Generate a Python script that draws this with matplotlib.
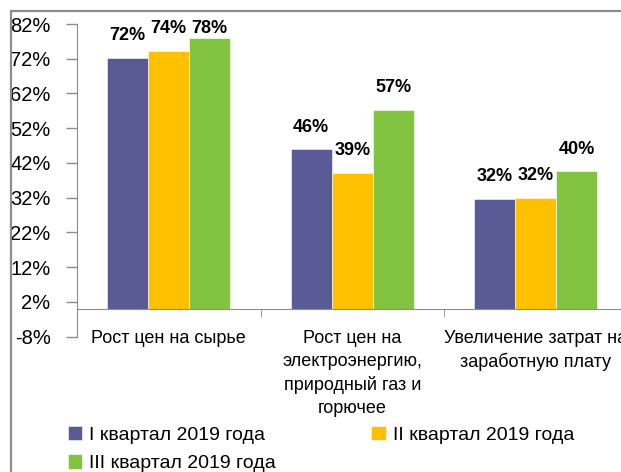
import matplotlib

matplotlib.use("Agg")
import matplotlib.pyplot as plt
import numpy as np
from matplotlib.patches import Rectangle

plt.rcParams["font.family"] = ["Liberation Sans Narrow", "Liberation Sans", "DejaVu Sans"]

categories = ["Рост цен на сырье",
              "Рост цен на\nэлектроэнергию,\nприродный газ и\nгорючее",
              "Увеличение затрат на\nзаработную плату"]
series = ["I квартал 2019 года", "II квартал 2019 года", "III квартал 2019 года"]
q1 = [72.3, 45.9, 31.6]
q2 = [74.2, 39.1, 32.0]
q3 = [78.1, 57.2, 39.6]
colors = ["#5a5b96", "#ffc000", "#82c341"]
yticks = list(range(-8, 83, 10))

fig = plt.figure(figsize=(6.21, 4.72), dpi=100)
# серая рамка области диаграммы
fig.patches.append(Rectangle((11 / 621, -0.1), 1.2, 1 - 11 / 472 + 0.1,
                             transform=fig.transFigure, fill=False,
                             edgecolor="#8c8c8c", lw=1.6))

ax = fig.add_axes([77 / 621, 1 - 336.7 / 472, 550.5 / 621, (336.7 - 24) / 472])
x = np.arange(len(categories))
w = 0.2235
bars = []
for i, (vals, c, lab) in enumerate(zip([q1, q2, q3], colors, series)):
    b = ax.bar(x + (i - 1) * w, vals, w, color=c, edgecolor="white", lw=0.4, label=lab)
    bars.append(b)
    for xi, v in zip(x + (i - 1) * w, vals):
        ax.text(xi, min(v + 6.4, 80.6), f"{v:.0f}%", ha="center", va="center",
                fontsize=13, fontweight="bold")

ax.set_xlim(-0.5, 2.5)
ax.set_ylim(-8, 82)
ax.set_yticks(yticks)
ax.set_yticklabels([f"{t}%" for t in yticks], fontsize=14.5)
ax.tick_params(axis="y", length=8, width=1, color="#8c8c8c", pad=11)

ax.spines["top"].set_visible(False)
ax.spines["right"].set_visible(False)
ax.spines["left"].set_color("#8c8c8c")
ax.spines["bottom"].set_color("#8c8c8c")
ax.spines["bottom"].set_position(("data", 0))

ax.set_xticks(x)
ax.set_xticklabels(categories, fontsize=13, linespacing=1.45)
ax.tick_params(axis="x", which="major", length=0, pad=15)
ax.set_xticks(x + 0.5, minor=True)
ax.tick_params(axis="x", which="minor", length=6, color="#8c8c8c", direction="out")

# порядок как в Excel: I и II в первой строке, III во второй
order = [0, 2, 1]
fig.legend(handles=[bars[k][0] for k in order], labels=[series[k] for k in order],
           ncol=2, loc="upper left",
           bbox_to_anchor=(60 / 621, 1 - 418 / 472), frameon=False, fontsize=14,
           handlelength=0.75, handleheight=0.75, handletextpad=0.35,
           columnspacing=4.9, labelspacing=0.55, borderaxespad=0)

fig.savefig("out.png", dpi=100)
